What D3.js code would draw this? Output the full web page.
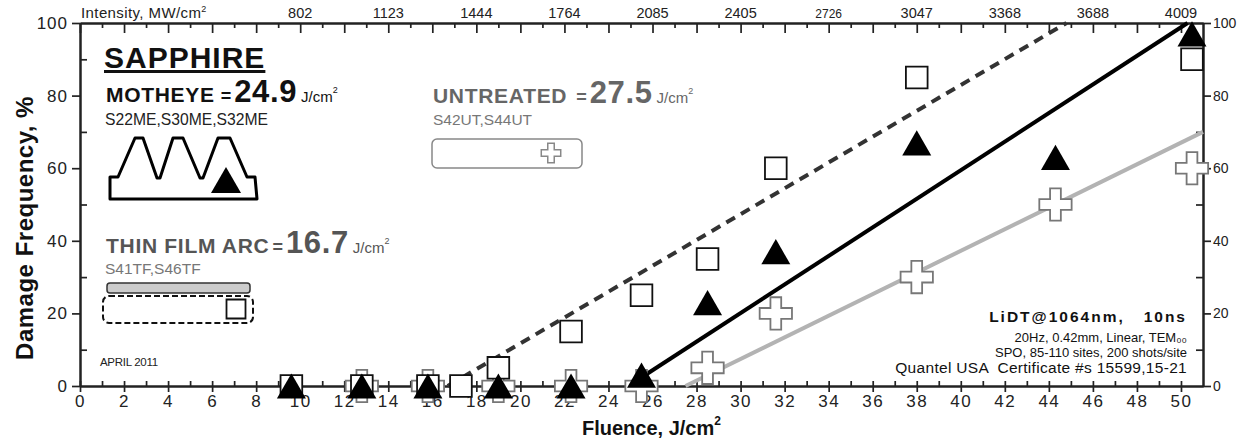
<!DOCTYPE html>
<html>
<head>
<meta charset="utf-8">
<script src="https://cdn.jsdelivr.net/npm/d3@7"></script>
<style>
body { margin: 0; background: #fff; }
svg { display: block; font-family: "Liberation Sans", Arial, Helvetica, sans-serif; }
</style>
</head>
<body>
<script>
// Sapphire LiDT chart, fluence vs damage frequency

// fluence steps (J/cm2) and damage frequency (%) per sample set
var motheyeFluence   = [9.6, 12.8, 15.8, 19.0, 22.3, 25.5, 28.5, 31.6, 38.0, 44.3, 50.5];
var motheyeDamage    = [0,   0,    0,    0,    0,    3,    23,   37,   67,   63,   97];
var thinFilmFluence  = [9.6, 12.8, 15.8, 17.3, 19.0, 22.3, 25.5, 28.5, 31.6, 38.0, 50.5];
var thinFilmDamage   = [0,   0,    0,    0,    5,    15,   25,   35,   60,   85,   90];
var untreatedFluence = [12.8, 15.8, 19.0, 22.3, 25.5, 28.5, 31.6, 38.0, 44.3, 50.5];
var untreatedDamage  = [0,    0,    0,    0,    0,    5,    20,   30,   50,   60];

// fit lines: [fluence, damage] at start and end
var motheyeFit   = [[24.9, 0], [50.3, 100]];
var thinFilmFit  = [[16.7, 0], [44.8, 100]];
var untreatedFit = [[27.5, 0], [51.0, 70]];

// tick labels
var xTicks = d3.range(0, 51, 2);
var yTicks = [0, 20, 40, 60, 80, 100];
var intensityFluence = [10, 14, 18, 22, 26, 30, 34, 38, 42, 46, 50];
var intensityLabels  = ["802", "1123", "1444", "1764", "2085", "2405", "2726", "3047", "3368", "3688", "4009"];

var W = 1249, H = 443;
var x = d3.scaleLinear().domain([0, 51]).range([80, 1203]);
var y = d3.scaleLinear().domain([0, 100]).range([386, 23]);

var svg = d3.select("body").append("svg").attr("width", W).attr("height", H);
svg.append("rect").attr("width", W).attr("height", H).attr("fill", "#fff");

var tickFont = "17px";

// bottom axis, major ticks cross the line
var gb = svg.append("g").attr("transform", "translate(0," + y(0) + ")")
  .call(d3.axisBottom(x).tickValues(xTicks).tickSize(6).tickSizeOuter(0));
gb.selectAll(".tick line").attr("y1", -5).attr("y2", 6);
gb.selectAll(".tick text").attr("y", 9).attr("font-size", tickFont).attr("letter-spacing", "1.5px").attr("fill", "#222");
svg.append("g").attr("transform", "translate(0," + y(0) + ")")
  .call(d3.axisBottom(x).tickValues(d3.range(1, 51, 2)).tickSize(-5).tickFormat("").tickSizeOuter(0));

// top axis (intensity)
svg.append("g").attr("transform", "translate(0," + y(100) + ")")
  .call(d3.axisTop(x).tickValues(xTicks).tickSize(-10).tickFormat("").tickSizeOuter(0));
svg.append("g").attr("transform", "translate(0," + y(100) + ")")
  .call(d3.axisTop(x).tickValues(d3.range(1, 51, 2)).tickSize(-5).tickFormat("").tickSizeOuter(0));
svg.selectAll(".intens").data(intensityLabels).enter().append("text")
  .attr("x", function(d, i) { return x(intensityFluence[i]); })
  .attr("y", 18)
  .attr("text-anchor", "middle")
  .attr("font-size", function(d) { return d == "2726" ? "12px" : "14.5px"; })
  .attr("fill", "#222")
  .text(function(d) { return d; });
var it = svg.append("text").attr("x", 81).attr("y", 18).attr("font-size", "15px").attr("letter-spacing", "0.4px").attr("fill", "#222");
it.append("tspan").text("Intensity, MW/cm");
it.append("tspan").attr("font-size", "9px").attr("dy", -6).text("2");

// left axis
var gl = svg.append("g").attr("transform", "translate(" + x(0) + ",0)")
  .call(d3.axisLeft(y).tickValues(yTicks).tickSize(8).tickSizeOuter(0));
gl.selectAll(".tick text").attr("font-size", tickFont).attr("letter-spacing", "1px").attr("fill", "#222").attr("x", -12);
svg.append("g").attr("transform", "translate(" + x(0) + ",0)")
  .call(d3.axisLeft(y).tickValues([10, 30, 50, 70, 90]).tickSize(-7).tickFormat("").tickSizeOuter(0));

// right axis
var gr = svg.append("g").attr("transform", "translate(" + x(51) + ",0)")
  .call(d3.axisRight(y).tickValues(yTicks).tickSize(8).tickSizeOuter(0));
gr.selectAll(".tick text").attr("font-size", "14px").attr("fill", "#222").attr("x", 10);
svg.append("g").attr("transform", "translate(" + x(51) + ",0)")
  .call(d3.axisRight(y).tickValues([10, 30, 50, 70, 90]).tickSize(-7).tickFormat("").tickSizeOuter(0));

svg.selectAll(".domain").attr("stroke", "#222").attr("stroke-width", 2);
svg.selectAll(".tick line").attr("stroke", "#222").attr("stroke-width", 1.7);

// axis titles
svg.append("text")
  .attr("transform", "translate(33,228) rotate(-90)")
  .attr("text-anchor", "middle").attr("font-size", "24px").attr("font-weight", "bold")
  .attr("letter-spacing", "0.5px").attr("fill", "#111")
  .text("Damage Frequency, %");
var xl = svg.append("text").attr("x", 582).attr("y", 435).attr("font-size", "20px").attr("font-weight", "bold").attr("fill", "#111");
xl.append("tspan").text("Fluence, J/cm");
xl.append("tspan").attr("font-size", "12px").attr("dy", -10).text("2");

// fit lines
var line = d3.line().x(function(d) { return x(d[0]); }).y(function(d) { return y(d[1]); });
svg.append("path").attr("d", line(untreatedFit)).attr("stroke", "#b3b3b3").attr("stroke-width", 4).attr("fill", "none");
svg.append("path").attr("d", line(thinFilmFit)).attr("stroke", "#333").attr("stroke-width", 4).attr("fill", "none").attr("stroke-dasharray", "10,7");
svg.append("path").attr("d", line(motheyeFit)).attr("stroke", "#000").attr("stroke-width", 4).attr("fill", "none");

// marker shapes
var cross = d3.symbol().type(d3.symbolCross).size(580);
var square = d3.symbol().type(d3.symbolSquare).size(470);
function triPath(w) {
  var h = w * 0.87;
  return "M0," + (-h / 2) + "L" + (w / 2) + "," + (h / 2) + "L" + (-w / 2) + "," + (h / 2) + "Z";
}

svg.selectAll(".ut").data(untreatedFluence).enter().append("path")
  .attr("d", cross())
  .attr("transform", function(d, i) { return "translate(" + x(d) + "," + y(untreatedDamage[i]) + ")"; })
  .attr("fill", "#fff").attr("stroke", "#777").attr("stroke-width", 1.8);

svg.selectAll(".tf").data(thinFilmFluence).enter().append("path")
  .attr("d", square())
  .attr("transform", function(d, i) { return "translate(" + x(d) + "," + y(thinFilmDamage[i]) + ")"; })
  .attr("fill", "#fff").attr("stroke", "#111").attr("stroke-width", 1.8);

svg.selectAll(".me").data(motheyeFluence).enter().append("path")
  .attr("d", triPath(29))
  .attr("transform", function(d, i) { return "translate(" + x(d) + "," + y(motheyeDamage[i]) + ")"; })
  .attr("fill", "#000");

// legend: SAPPHIRE / MOTHEYE
svg.append("text").attr("x", 104).attr("y", 68).attr("font-size", "30px").attr("font-weight", "bold")
  .attr("letter-spacing", "1px").attr("fill", "#111").attr("text-decoration", "underline").text("SAPPHIRE");

function thresholdLabel(px, py, name, eqGap, value, color) {
  var t = svg.append("text").attr("x", px).attr("y", py).attr("fill", color).attr("font-weight", "bold");
  t.append("tspan").attr("font-size", "21px").attr("letter-spacing", "0.7px").text(name);
  t.append("tspan").attr("font-size", "18px").attr("dx", eqGap).text("=");
  t.append("tspan").attr("font-size", "31px").attr("letter-spacing", "0.6px").attr("dx", 3).text(value);
  t.append("tspan").attr("font-size", "15px").attr("font-weight", "normal").attr("dx", 4).text("J/cm");
  t.append("tspan").attr("font-size", "9px").attr("font-weight", "normal").attr("dy", -9).text("2");
}
thresholdLabel(106, 102, "MOTHEYE", 6, "24.9", "#111");
svg.append("text").attr("x", 105).attr("y", 125).attr("font-size", "15.7px").attr("fill", "#222").text("S22ME,S30ME,S32ME");

var motheyeShape = [[110,199],[110,177],[118,177],[135,138],[143,138],[157,178],[160,178],[173,138],[183,138],[200,178],[203,178],[218,138],[230,138],[247,177],[255,177],[257,199]];
svg.append("path").attr("d", d3.line()(motheyeShape) + "Z").attr("fill", "#fff").attr("stroke", "#000").attr("stroke-width", 3).attr("stroke-linejoin", "round");
svg.append("path").attr("d", triPath(30)).attr("transform", "translate(226,180)").attr("fill", "#000");

// legend: THIN FILM ARC
thresholdLabel(106, 253, "THIN FILM ARC", 3, "16.7", "#555");
svg.append("text").attr("x", 105).attr("y", 274).attr("font-size", "15.5px").attr("fill", "#777").text("S41TF,S46TF");
svg.append("rect").attr("x", 107).attr("y", 283).attr("width", 143).attr("height", 10).attr("rx", 3)
  .attr("fill", "#ccc").attr("stroke", "#333").attr("stroke-width", 1.5);
svg.append("rect").attr("x", 103).attr("y", 296).attr("width", 150).attr("height", 27).attr("rx", 6)
  .attr("fill", "none").attr("stroke", "#111").attr("stroke-width", 2).attr("stroke-dasharray", "6,3");
svg.append("path").attr("d", d3.symbol().type(d3.symbolSquare).size(361)()).attr("transform", "translate(236,309)")
  .attr("fill", "#fff").attr("stroke", "#111").attr("stroke-width", 1.8);
svg.append("text").attr("x", 100).attr("y", 366).attr("font-size", "11.5px").attr("fill", "#222").attr("letter-spacing", "-0.3px").text("APRIL 2011");

// legend: UNTREATED
thresholdLabel(433, 103, "UNTREATED", 9, "27.5", "#666");
svg.append("text").attr("x", 433).attr("y", 125).attr("font-size", "15.5px").attr("fill", "#777").text("S42UT,S44UT");
svg.append("rect").attr("x", 432).attr("y", 139).attr("width", 150).attr("height", 29).attr("rx", 5)
  .attr("fill", "#fff").attr("stroke", "#888").attr("stroke-width", 1.5);
svg.append("path").attr("d", d3.symbol().type(d3.symbolCross).size(210)()).attr("transform", "translate(551,153)")
  .attr("fill", "#fff").attr("stroke", "#888").attr("stroke-width", 1.5);

// test conditions block
var notes = [
  ["LiDT@1064nm,   10ns", "15.5px", "bold", 322, "2px"],
  ["20Hz, 0.42mm, Linear, TEM\u2080\u2080", "13px", "normal", 342, "0px"],
  ["SPO, 85-110 sites, 200 shots/site", "13px", "normal", 357, "0px"],
  ["Quantel USA  Certificate #s 15599,15-21", "15.5px", "normal", 373, "0.3px"]
];
svg.selectAll(".note").data(notes).enter().append("text")
  .attr("x", 1187).attr("y", function(d) { return d[3]; })
  .attr("text-anchor", "end")
  .attr("font-size", function(d) { return d[1]; })
  .attr("font-weight", function(d) { return d[2]; })
  .attr("letter-spacing", function(d) { return d[4]; })
  .style("white-space", "pre")
  .attr("fill", "#111")
  .text(function(d) { return d[0]; });
</script>
</body>
</html>
